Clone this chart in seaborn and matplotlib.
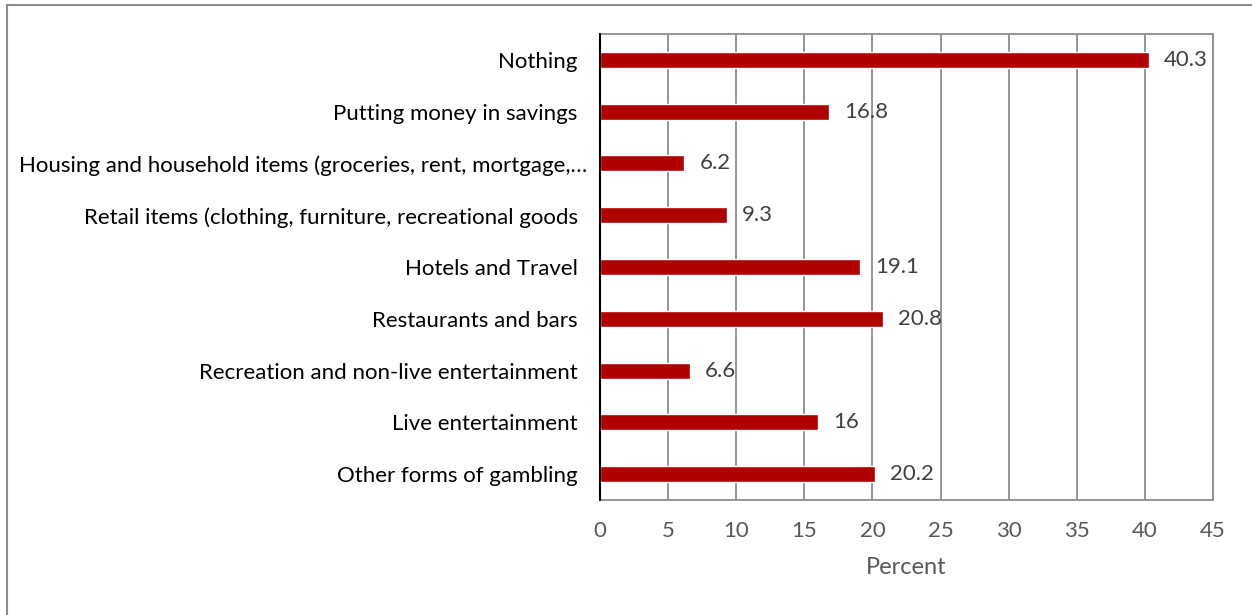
import pandas as pd
import seaborn as sns
import matplotlib
matplotlib.use('Agg')
from matplotlib import pyplot as plt
from matplotlib.patches import Rectangle
from matplotlib.transforms import ScaledTranslation

categories = ['Nothing', 'Putting money in savings',
              'Housing and household items (groceries, rent, mortgage,\u2026',
              'Retail items (clothing, furniture, recreational goods',
              'Hotels and Travel', 'Restaurants and bars',
              'Recreation and non-live entertainment', 'Live entertainment',
              'Other forms of gambling']
percent = [40.3, 16.8, 6.2, 9.3, 19.1, 20.8, 6.6, 16, 20.2]
labels = ['40.3', '16.8', '6.2', '9.3', '19.1', '20.8', '6.6', '16', '20.2']
xticks = [0, 5, 10, 15, 20, 25, 30, 35, 40, 45]

df = pd.DataFrame({'category': categories, 'percent': percent})

sns.set_style('white')
plt.rcParams['font.family'] = ['Lato', 'DejaVu Sans']

fig = plt.figure(figsize=(12.52, 6.15), dpi=100)
ax = fig.add_axes([0.4792, 0.187, 0.4896, 0.7577])

sns.barplot(data=df, x='percent', y='category', color='#B00000', width=0.31,
            saturation=1, ax=ax, zorder=3)

for i, (v, t) in enumerate(zip(percent, labels)):
    ax.text(v + 1.1, i, t, va='center', ha='left', fontsize=16, color='#404040', zorder=4)

ax.set_xlim(0, 45)
ax.set_ylim(8.5, -0.5)
ax.set_xticks(xticks)
ax.set_xticklabels([str(x) for x in xticks])
ax.grid(axis='x', color='#8c8c8c', linewidth=1.3, zorder=0)
ax.tick_params(axis='x', colors='#595959', labelsize=16, length=0, pad=15)
ax.tick_params(axis='y', colors='#000000', labelsize=16, length=0, pad=16)
ax.set_xlabel('Percent', fontsize=17, color='#595959', labelpad=12)
ax.set_ylabel('')
# the truncated label sits closer to the axis, as in the original
ax.get_yticklabels()[2].set_transform(ax.get_yticklabels()[2].get_transform()
                                      + ScaledTranslation(0.1, 0, fig.dpi_scale_trans))
for s in ['top', 'right', 'bottom']:
    ax.spines[s].set_color('#8c8c8c')
    ax.spines[s].set_linewidth(1.3)
ax.spines['left'].set_color('#000000')
ax.spines['left'].set_linewidth(1.5)
ax.spines['left'].set_zorder(5)

# outer chart frame
fig.patches.append(Rectangle((7 / 1252, -0.1), 1.2, (610 / 615) + 0.1, transform=fig.transFigure,
                             fill=False, edgecolor='#8c8c8c', linewidth=1.5))

fig.savefig('out.png', dpi=100)
